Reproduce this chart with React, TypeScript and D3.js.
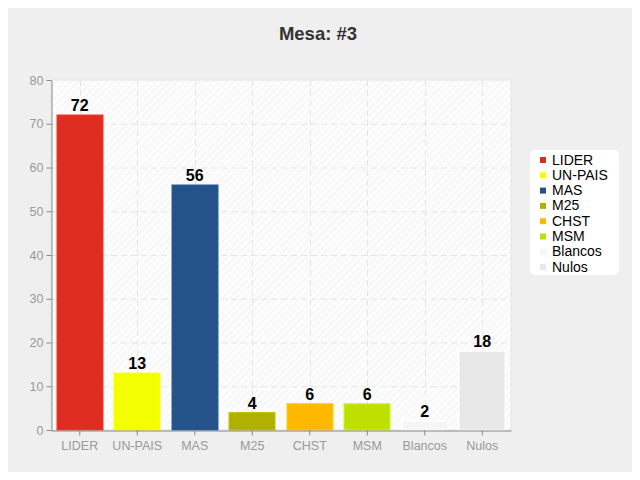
import { useEffect, useRef } from "react";
import * as d3 from "d3";

const categories = ["LIDER", "UN-PAIS", "MAS", "M25", "CHST", "MSM", "Blancos", "Nulos"];
const votes = [72, 13, 56, 4, 6, 6, 2, 18];
const colors = ["#e02d22", "#f3ff00", "#24538a", "#b0b000", "#ffb800", "#bde000", "#f5f5f5", "#e8e8e8"];
const yTicks = [0, 10, 20, 30, 40, 50, 60, 70, 80];
const title = "Mesa: #3";

export default function App() {
  const svgRef = useRef<SVGSVGElement>(null);

  useEffect(() => {
    const W = 640;
    const H = 480;
    const margin = { top: 80, right: 129, bottom: 50, left: 51 };
    const width = W - margin.left - margin.right;
    const height = H - margin.top - margin.bottom;
    const font = "'Liberation Sans', Arial, sans-serif";

    const svg = d3.select(svgRef.current);
    svg.selectAll("*").remove();
    svg.attr("width", W).attr("height", H).style("font-family", font);

    // background panel
    svg.append("rect").attr("width", W).attr("height", H).attr("fill", "#fafafa");
    svg
      .append("rect")
      .attr("x", 5.5)
      .attr("y", 5.5)
      .attr("width", W - 11)
      .attr("height", H - 11)
      .attr("rx", 5)
      .attr("fill", "#efefef")
      .attr("stroke", "#e4e4e4");

    svg
      .append("text")
      .attr("x", W / 2 - 2)
      .attr("y", 40)
      .attr("text-anchor", "middle")
      .attr("font-size", 18.5)
      .attr("font-weight", "bold")
      .attr("fill", "#333")
      .text(title);

    const defs = svg.append("defs");
    const pat = defs
      .append("pattern")
      .attr("id", "hatch")
      .attr("patternUnits", "userSpaceOnUse")
      .attr("width", 5)
      .attr("height", 5)
      .attr("patternTransform", "rotate(45)");
    pat.append("rect").attr("width", 5).attr("height", 5).attr("fill", "#fcfcfc");
    pat.append("line").attr("x1", 0).attr("y1", 0).attr("x2", 0).attr("y2", 5).attr("stroke", "#ececec").attr("stroke-width", 1);

    const g = svg.append("g").attr("transform", `translate(${margin.left},${margin.top})`);

    const x = d3.scaleBand().domain(categories).range([0, width]).paddingInner(0.2).paddingOuter(0.1);
    const y = d3.scaleLinear().domain([0, 80]).range([height, 0]);
    const cx = (c: string) => (x(c) ?? 0) + x.bandwidth() / 2;

    g.append("rect").attr("width", width).attr("height", height).attr("fill", "url(#hatch)").attr("stroke", "#e6e6e6");

    // grid
    g.selectAll(".hgrid")
      .data(yTicks.slice(1, -1))
      .enter()
      .append("line")
      .attr("x1", 0)
      .attr("x2", width)
      .attr("y1", (d) => y(d) + 0.5)
      .attr("y2", (d) => y(d) + 0.5)
      .attr("stroke", "#e6e6e6")
      .attr("stroke-dasharray", "6,4");
    g.selectAll(".vgrid")
      .data(categories)
      .enter()
      .append("line")
      .attr("x1", (d) => Math.round(cx(d)) + 0.5)
      .attr("x2", (d) => Math.round(cx(d)) + 0.5)
      .attr("y1", 0)
      .attr("y2", height)
      .attr("stroke", "#e6e6e6")
      .attr("stroke-dasharray", "6,4");

    // bars
    g.selectAll(".bar")
      .data(votes)
      .enter()
      .append("rect")
      .attr("x", (_, i) => Math.round(x(categories[i]) ?? 0))
      .attr("y", (d) => y(d))
      .attr("width", Math.round(x.bandwidth()))
      .attr("height", (d) => height - y(d))
      .attr("fill", (_, i) => colors[i])
      .attr("stroke", (_, i) => d3.color(colors[i])!.brighter(0.3).toString())
      .attr("stroke-width", 1);

    g.selectAll(".lbl")
      .data(votes)
      .enter()
      .append("text")
      .attr("x", (_, i) => cx(categories[i]))
      .attr("y", (d) => y(d) - 4)
      .attr("text-anchor", "middle")
      .attr("font-size", 16)
      .attr("font-weight", "bold")
      .attr("fill", "#000")
      .text((d) => d);

    // axes
    const yAxis = g.append("g").attr("transform", "translate(0.5,0)").call(d3.axisLeft(y).tickValues(yTicks).tickSize(5).tickSizeOuter(0));
    yAxis.selectAll("text").attr("fill", "#999").attr("font-size", 12.5).attr("font-family", font);
    const xAxis = g
      .append("g")
      .attr("transform", `translate(0,${height + 0.5})`)
      .call(d3.axisBottom(x).tickSize(5).tickSizeOuter(0));
    xAxis.selectAll("text").attr("fill", "#999").attr("font-size", 12.5).attr("font-family", font).attr("dy", "0.95em");
    g.selectAll(".domain, .tick line").attr("stroke", "#888");

    // legend
    const lg = svg.append("g").attr("transform", "translate(530,150)");
    lg.append("rect").attr("width", 89).attr("height", 125).attr("rx", 5).attr("fill", "#fff");
    const items = lg
      .selectAll(".item")
      .data(categories)
      .enter()
      .append("g")
      .attr("transform", (_, i) => `translate(0,${10 + i * 15.3})`);
    items
      .append("rect")
      .attr("x", 10)
      .attr("y", -3)
      .attr("width", 6)
      .attr("height", 6)
      .attr("fill", (_, i) => colors[i]);
    items
      .append("text")
      .attr("x", 22)
      .attr("y", 4.5)
      .attr("font-size", 14)
      .attr("fill", "#000")
      .text((d) => d);
  }, []);

  return <svg ref={svgRef} style={{ display: "block", margin: -8 }} />;
}
